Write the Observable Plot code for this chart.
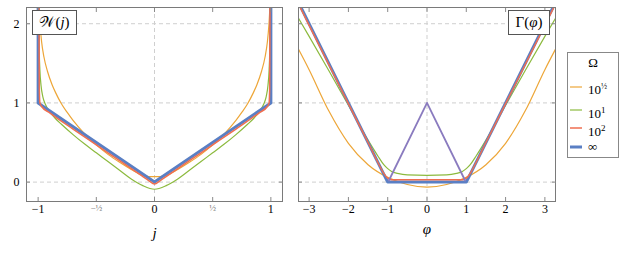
<!DOCTYPE html>
<html><head><meta charset="utf-8">
<script src="https://cdn.jsdelivr.net/npm/d3@7"></script>
<script src="https://cdn.jsdelivr.net/npm/@observablehq/plot@0.6"></script>
<style>
body{margin:0;background:#fff;}
#wrap{position:relative;width:629px;height:257px;font-family:"Liberation Serif",serif;color:#000;}
#wrap svg.plot{position:absolute;top:0;}
.tbox{position:absolute;border:1px solid #555;background:#fff;font-size:15px;line-height:23px;text-align:center;box-sizing:border-box;}
#legend{position:absolute;left:567px;top:52px;width:52px;height:106px;border:1px solid #888;background:#fff;font-size:13px;box-sizing:border-box;}
#legend .row{position:absolute;left:0;height:20px;line-height:20px;}
</style></head><body><div id="wrap"></div>
<script>
// ---- data ----
const colors = {orange: "#eda638", green: "#8cba3e", red: "#ef6e50", blue: "#5a7fc4", purple: "#8a7bbf"};

// left panel: W(j)
const jTicks = [-1, -0.5, 0, 0.5, 1];
const jTickLabels = ["−1", "−½", "0", "½", "1"];
const yTicks = [0, 1, 2];

const wBlueJ = [-1, -1, 0, 1, 1];
const wBlueW = [2.4, 1, 0, 1, 2.4];

const wRedJ = [-0.993, -0.99, -0.985, -0.97, -0.9, -0.7, -0.5, -0.3, -0.1, -0.05, 0, 0.05, 0.1, 0.3, 0.5, 0.7, 0.9, 0.97, 0.985, 0.99, 0.993];
const wRedW = [2.4, 1.2, 1.0, 0.955, 0.875, 0.67, 0.47, 0.27, 0.07, 0.02, -0.025, 0.02, 0.07, 0.27, 0.47, 0.67, 0.875, 0.955, 1.0, 1.2, 2.4];

const wOrangeJ = [-0.995, -0.983, -0.97, -0.95, -0.92, -0.88, -0.85, -0.8, -0.75, -0.7, -0.6, -0.5, -0.4, -0.3, -0.2, -0.1, -0.05, 0, 0.05, 0.1, 0.2, 0.3, 0.4, 0.5, 0.6, 0.7, 0.75, 0.8, 0.85, 0.88, 0.92, 0.95, 0.97, 0.983, 0.995];
const wOrangeW = [2.3, 1.98, 1.77, 1.58, 1.4, 1.23, 1.13, 0.99, 0.88, 0.78, 0.61, 0.47, 0.35, 0.25, 0.16, 0.085, 0.07, 0.068, 0.07, 0.085, 0.16, 0.25, 0.35, 0.47, 0.61, 0.78, 0.88, 0.99, 1.13, 1.23, 1.4, 1.58, 1.77, 1.98, 2.3];

const wGreenJ = [-0.995, -0.99, -0.985, -0.975, -0.96, -0.94, -0.9, -0.85, -0.8, -0.7, -0.6, -0.5, -0.4, -0.3, -0.2, -0.1, 0, 0.1, 0.2, 0.3, 0.4, 0.5, 0.6, 0.7, 0.8, 0.85, 0.9, 0.94, 0.96, 0.975, 0.985, 0.99, 0.995];
const wGreenW = [2.4, 1.65, 1.42, 1.22, 1.08, 0.99, 0.89, 0.8, 0.73, 0.6, 0.48, 0.37, 0.26, 0.15, 0.04, -0.045, -0.09, -0.045, 0.04, 0.15, 0.26, 0.37, 0.48, 0.6, 0.73, 0.8, 0.89, 0.99, 1.08, 1.22, 1.42, 1.65, 2.4];

// right panel: Gamma(phi)
const pTicks = [-3, -2, -1, 0, 1, 2, 3];

const gBlueP = [-3.4, -1, 1, 3.4];
const gBlueG = [2.4, 0, 0, 2.4];

const gRedP = [-3.4, -3, -2, -1.5, -1.2, -1.1, -1.0, -0.9, 0, 0.9, 1.0, 1.1, 1.2, 1.5, 2, 3, 3.4];
const gRedG = [2.38, 1.98, 0.99, 0.5, 0.2, 0.11, 0.05, 0.03, 0.03, 0.03, 0.05, 0.11, 0.2, 0.5, 0.99, 1.98, 2.38];

const gGreenP = [-3.4, -3, -2.5, -2, -1.5, -1.25, -1.1, -1, -0.9, -0.75, -0.5, 0, 0.5, 0.75, 0.9, 1, 1.1, 1.25, 1.5, 2, 2.5, 3, 3.4];
const gGreenG = [2.18, 1.84, 1.41, 0.97, 0.53, 0.33, 0.22, 0.17, 0.135, 0.11, 0.09, 0.085, 0.09, 0.11, 0.135, 0.17, 0.22, 0.33, 0.53, 0.97, 1.41, 1.84, 2.18];

const gOrangeP = [-3.4, -3, -2.5, -2, -1.5, -1, -0.5, 0, 0.5, 1, 1.5, 2, 2.5, 3, 3.4];
const gOrangeG = [1.8, 1.42, 0.9, 0.49, 0.22, 0.06, -0.03, -0.063, -0.03, 0.06, 0.22, 0.49, 0.9, 1.42, 1.8];

const gPurpleP = [-0.97, 0, 0.97];
const gPurpleG = [0.02, 1, 0.02];

// ---- helpers ----
const pts = (xs, ys) => xs.map((x, i) => ({x, y: ys[i]}));
const lineOf = (xs, ys, color, w, curve) => Plot.line(pts(xs, ys), {x: "x", y: "y", stroke: color, strokeWidth: w, curve: curve || "monotone-x", clip: true, strokeLinejoin: "round"});
const gridStyle = {stroke: "#cfcfcf", strokeOpacity: 1, strokeWidth: 1, strokeDasharray: "4,3"};
const baseStyle = {fontFamily: "Liberation Serif, serif", fontSize: "12px", color: "#000", background: "transparent", overflow: "visible"};
const intFmt = d => String(d);

const left = Plot.plot({
  width: 290, height: 257, marginLeft: 26, marginRight: 8, marginTop: 7, marginBottom: 56,
  x: {domain: [-1.1, 1.1]}, y: {domain: [-0.245, 2.205]},
  style: baseStyle,
  marks: [
    Plot.gridY(yTicks, gridStyle),
    Plot.gridX([0], gridStyle),
    lineOf(wOrangeJ, wOrangeW, colors.orange, 1.2),
    lineOf(wGreenJ, wGreenW, colors.green, 1.2),
    lineOf(wBlueJ, wBlueW, colors.blue, 3, "linear"),
    lineOf(wRedJ, wRedW, colors.red, 1.5),
    Plot.frame({stroke: "#7a7a7a"}),
    Plot.axisX(jTicks, {anchor: "bottom", tickSize: -4, tickPadding: 7, tickFormat: d => jTickLabels[jTicks.indexOf(d)], label: null}),
    Plot.axisX(jTicks, {anchor: "top", tickSize: -4, tickFormat: () => "", label: null}),
    Plot.axisY(yTicks, {anchor: "left", tickSize: -4, tickPadding: 11, tickFormat: intFmt, label: null}),
    Plot.axisY(yTicks, {anchor: "right", tickSize: -4, tickFormat: () => "", label: null}),
    Plot.text(["j"], {frameAnchor: "bottom", dy: 36, text: d => d, fontStyle: "italic", fontSize: 15})
  ]
});

const right = Plot.plot({
  width: 275, height: 257, marginLeft: 8, marginRight: 10, marginTop: 7, marginBottom: 56,
  x: {domain: [-3.27, 3.27]}, y: {domain: [-0.245, 2.205]},
  style: baseStyle,
  marks: [
    Plot.gridY(yTicks, gridStyle),
    Plot.gridX([0], gridStyle),
    lineOf(gOrangeP, gOrangeG, colors.orange, 1.2),
    lineOf(gGreenP, gGreenG, colors.green, 1.2),
    lineOf(gBlueP, gBlueG, colors.blue, 3, "linear"),
    lineOf(gRedP, gRedG, colors.red, 1.5),
    lineOf(gPurpleP, gPurpleG, colors.purple, 1.8, "linear"),
    Plot.frame({stroke: "#7a7a7a"}),
    Plot.axisX(pTicks, {anchor: "bottom", tickSize: -4, tickPadding: 7, tickFormat: d => (d < 0 ? "−" + (-d) : String(d)), label: null}),
    Plot.axisX(pTicks, {anchor: "top", tickSize: -4, tickFormat: () => "", label: null}),
    Plot.axisY(yTicks, {anchor: "left", tickSize: -4, tickFormat: () => "", label: null}),
    Plot.axisY(yTicks, {anchor: "right", tickSize: -4, tickFormat: () => "", label: null}),
    Plot.text(["φ"], {frameAnchor: "bottom", dy: 32, text: d => d, fontStyle: "italic", fontSize: 15})
  ]
});

const wrap = document.getElementById("wrap");
left.classList.add("plot"); right.classList.add("plot");
left.style.left = "0px"; right.style.left = "290px";
wrap.appendChild(left); wrap.appendChild(right);

// tick colours and small half labels
d3.selectAll("#wrap g[aria-label$='tick']").attr("stroke", "#8a8a8a");
d3.selectAll("#wrap g[aria-label='x-axis tick label'] text").each(function() {
  const t = d3.select(this);
  if (t.text().includes("½")) t.attr("font-size", 9).attr("fill", "#777");
});

// title boxes
const tb1 = document.createElement("div");
tb1.className = "tbox";
tb1.style.cssText = "left:32px;top:10px;width:45px;height:25px;";
tb1.innerHTML = "𝒲(<i>j</i>)";
wrap.appendChild(tb1);
const tb2 = document.createElement("div");
tb2.className = "tbox";
tb2.style.cssText = "left:508px;top:10px;width:42px;height:25px;";
tb2.innerHTML = "Γ(<i>φ</i>)";
wrap.appendChild(tb2);

// legend
const legendItems = [
  {label: "10<sup style='font-size:8px'>½</sup>", color: colors.orange, w: 1.2, top: 24},
  {label: "10<sup style='font-size:9px'>1</sup>", color: colors.green, w: 1.2, top: 47},
  {label: "10<sup style='font-size:9px'>2</sup>", color: colors.red, w: 1.5, top: 65},
  {label: "∞", color: colors.blue, w: 3, top: 84}
];
const lg = document.createElement("div");
lg.id = "legend";
let html = "<div style='position:absolute;top:1px;width:100%;text-align:center;line-height:18px'>Ω</div>";
for (const it of legendItems) {
  html += `<div class='row' style='top:${it.top}px;width:100%'><svg width='18' height='20' style='position:absolute;left:0;top:0'><line x1='2' x2='14' y1='10' y2='10' stroke='${it.color}' stroke-width='${it.w}'/></svg><span style='position:absolute;left:20px;top:0'>${it.label}</span></div>`;
}
lg.innerHTML = html;
wrap.appendChild(lg);
</script></body></html>
